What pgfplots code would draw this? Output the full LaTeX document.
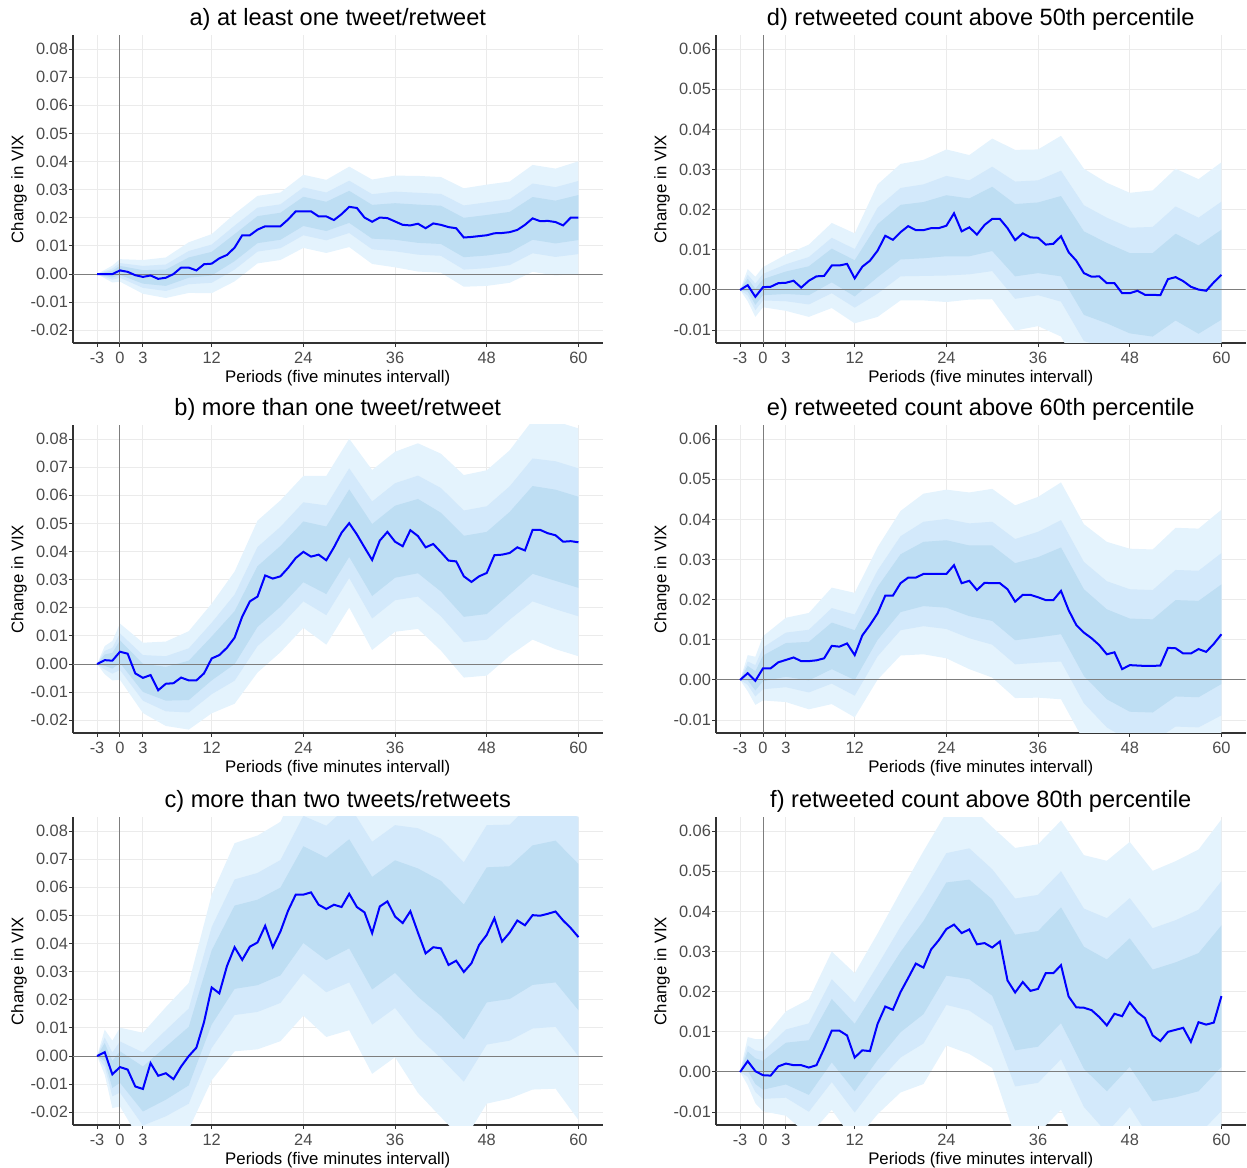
\documentclass[border=0pt]{standalone}
\usepackage{fontspec}
\setmainfont{Liberation Sans}
\usepackage{pgfplots}
\pgfplotsset{compat=1.18}
\usepackage{pgfplotstable}
\usepgfplotslibrary{fillbetween}

\definecolor{cOut}{RGB}{228,243,253}
\definecolor{cMid}{RGB}{211,233,251}
\definecolor{cIn}{RGB}{190,222,243}
\definecolor{gridc}{RGB}{235,235,235}
\definecolor{zeroc}{RGB}{125,125,125}
\definecolor{linec}{RGB}{0,0,255}

\pgfplotsset{
  irf/.style={
    scale only axis, width=264.75pt, height=154pt,
    xmin=-6.15, xmax=63.15,
    xtick={-3,0,3,12,24,36,48,60},
    xticklabels={-3,0,3,12,24,36,48,60},
    scaled y ticks=false, scaled x ticks=false,
    axis x line*=bottom, axis y line*=left,
    axis line style={draw=black!80, line width=0.6pt},
    tick align=outside, major tick length=2pt,
    tick style={draw=black!80, line width=0.5pt},
    xmajorgrids, ymajorgrids,
    major grid style={draw=gridc, line width=0.5pt},
    ticklabel style={font=\fontsize{8.2}{9.8}\selectfont, text=black!70},
    yticklabel style={xshift=3pt},
    xticklabel style={yshift=1pt},
    xlabel={Periods (five minutes intervall)},
    ylabel={Change in VIX},
    label style={font=\fontsize{8.4}{10}\selectfont},
    xlabel style={at={(axis description cs:0.5,-0.114)}, anchor=center},
    ylabel style={at={(axis description cs:-0.102,0.5)}, anchor=center},
    title style={font=\fontsize{11.8}{14}\selectfont, at={(axis description cs:0.5,1)}, anchor=center, yshift=2pt},
  },
  pleft/.style={irf, ymin=-0.0245, ymax=0.085,
    ytick={-0.02,-0.01,0,0.01,0.02,0.03,0.04,0.05,0.06,0.07,0.08},
    yticklabels={-0.02,-0.01,0.00,0.01,0.02,0.03,0.04,0.05,0.06,0.07,0.08}},
  pright/.style={irf, ymin=-0.0132, ymax=0.0635,
    ytick={-0.01,0,0.01,0.02,0.03,0.04,0.05,0.06},
    yticklabels={-0.01,0.00,0.01,0.02,0.03,0.04,0.05,0.06}},
}

\newcommand{\irfbands}[1]{%
 \addplot[name path=h3,draw=none] table[x=x,y=hi3]{#1};
 \addplot[name path=l3,draw=none] table[x=x,y=lo3]{#1};
 \addplot[fill=cOut,draw=none] fill between[of=h3 and l3];
 \addplot[name path=h2,draw=none] table[x=x,y=hi2]{#1};
 \addplot[name path=l2,draw=none] table[x=x,y=lo2]{#1};
 \addplot[fill=cMid,draw=none] fill between[of=h2 and l2];
 \addplot[name path=h1,draw=none] table[x=x,y=hi1]{#1};
 \addplot[name path=l1,draw=none] table[x=x,y=lo1]{#1};
 \addplot[fill=cIn,draw=none] fill between[of=h1 and l1];
}
\newcommand{\zerolines}[2]{%
 \addplot[draw=zeroc, line width=0.5pt] coordinates {(-6.15,0) (63.15,0)};
 \addplot[draw=zeroc, line width=0.5pt] coordinates {(0,#1) (0,#2)};
}

% ---------------- panel a ----------------
\pgfplotstableread[row sep=\\]{
x y\\
-3 0\\ -2 0\\ -1 0\\ 0 0.0013\\ 1 0.0008\\ 2 -0.0004\\ 3 -0.001\\ 4 -0.0005\\ 5 -0.0017\\ 6 -0.0013\\
7 0\\ 8 0.0023\\ 9 0.0023\\ 10 0.0013\\ 11 0.0035\\ 12 0.0037\\ 13 0.0056\\ 14 0.0068\\ 15 0.0094\\ 16 0.0138\\
17 0.0138\\ 18 0.0158\\ 19 0.017\\ 20 0.017\\ 21 0.017\\ 22 0.0194\\ 23 0.0223\\ 24 0.0223\\ 25 0.0223\\ 26 0.0205\\
27 0.0205\\ 28 0.0192\\ 29 0.0213\\ 30 0.0239\\ 31 0.0235\\ 32 0.0201\\ 33 0.0186\\ 34 0.0201\\ 35 0.0199\\ 36 0.0187\\
37 0.0175\\ 38 0.0173\\ 39 0.0179\\ 40 0.0163\\ 41 0.018\\ 42 0.0175\\ 43 0.0167\\ 44 0.0163\\ 45 0.013\\ 46 0.0132\\
47 0.0135\\ 48 0.0138\\ 49 0.0145\\ 50 0.0146\\ 51 0.0149\\ 52 0.0157\\ 53 0.0175\\ 54 0.0198\\ 55 0.0188\\ 56 0.0189\\
57 0.0185\\ 58 0.0173\\ 59 0.0201\\ 60 0.0201\\
}\lineA
\pgfplotstableread{
x lo3 lo2 lo1 hi1 hi2 hi3
-3 0 0 0 0 0 0
-2 -0.0015 -0.001 -0.0006 0.0006 0.001 0.0015
-1 -0.003 -0.002 -0.0012 0.0012 0.002 0.003
0 -0.0027 -0.0013 -0.0003 0.0029 0.0039 0.0053
3 -0.007 -0.0049 -0.0034 0.0014 0.0029 0.005
6 -0.0085 -0.006 -0.0042 0.0016 0.0034 0.0059
9 -0.0067 -0.0036 -0.0013 0.0059 0.0082 0.0113
12 -0.0068 -0.0031 -0.0005 0.0079 0.0105 0.0142
15 -0.0026 0.0016 0.0046 0.0142 0.0172 0.0214
18 0.0038 0.008 0.011 0.0206 0.0236 0.0278
21 0.005 0.0092 0.0122 0.0218 0.0248 0.029
24 0.0093 0.0138 0.0171 0.0275 0.0308 0.0353
27 0.0075 0.012 0.0153 0.0257 0.029 0.0335
30 0.0096 0.0146 0.0182 0.0296 0.0332 0.0382
33 0.0036 0.0088 0.0126 0.0246 0.0284 0.0336
36 0.0024 0.0081 0.0122 0.0252 0.0293 0.035
39 0.0009 0.0069 0.0111 0.0247 0.0289 0.0349
42 0.0005 0.0065 0.0107 0.0243 0.0285 0.0345
45 -0.0045 0.0016 0.006 0.02 0.0244 0.0305
48 -0.0042 0.0021 0.0066 0.021 0.0255 0.0318
51 -0.0031 0.0032 0.0077 0.0221 0.0266 0.0329
54 0.0008 0.0074 0.0122 0.0274 0.0322 0.0388
57 -0.0005 0.0061 0.0109 0.0261 0.0309 0.0375
60 0.0001 0.0071 0.0121 0.0281 0.0331 0.0401
}\bandA

% ---------------- panel b ----------------
\pgfplotstableread[row sep=\\]{
x y\\
-3 0\\ -2 0.0014\\ -1 0.0012\\ 0 0.0044\\ 1 0.0037\\ 2 -0.0033\\ 3 -0.0049\\ 4 -0.0039\\ 5 -0.0093\\ 6 -0.007\\
7 -0.0068\\ 8 -0.0048\\ 9 -0.0058\\ 10 -0.0058\\ 11 -0.0033\\ 12 0.002\\ 13 0.0032\\ 14 0.0058\\ 15 0.0094\\ 16 0.0169\\
17 0.0223\\ 18 0.024\\ 19 0.0315\\ 20 0.0304\\ 21 0.0312\\ 22 0.0342\\ 23 0.0377\\ 24 0.0399\\ 25 0.0382\\ 26 0.0389\\
27 0.0369\\ 28 0.0415\\ 29 0.0467\\ 30 0.0501\\ 31 0.0461\\ 32 0.0415\\ 33 0.037\\ 34 0.0439\\ 35 0.047\\ 36 0.0435\\
37 0.0419\\ 38 0.0476\\ 39 0.0455\\ 40 0.0415\\ 41 0.0427\\ 42 0.0398\\ 43 0.0368\\ 44 0.0365\\ 45 0.0312\\ 46 0.0292\\
47 0.0312\\ 48 0.0324\\ 49 0.0387\\ 50 0.0389\\ 51 0.0395\\ 52 0.0415\\ 53 0.0404\\ 54 0.0477\\ 55 0.0477\\ 56 0.0465\\
57 0.0458\\ 58 0.0435\\ 59 0.0437\\ 60 0.0433\\
}\lineB
\pgfplotstableread{
x lo3 lo2 lo1 hi1 hi2 hi3
-3 0 0 0 0 0 0
-2 -0.0036 -0.0019 -0.0006 0.0034 0.0047 0.0064
-1 -0.0058 -0.0034 -0.0016 0.004 0.0058 0.0082
0 -0.0056 -0.0021 0.0004 0.0084 0.0109 0.0144
3 -0.0174 -0.013 -0.0099 0.0001 0.0032 0.0076
6 -0.022 -0.0168 -0.013 -0.001 0.0028 0.008
9 -0.0233 -0.0172 -0.0128 0.0012 0.0056 0.0117
12 -0.0175 -0.0107 -0.0058 0.0098 0.0147 0.0215
15 -0.0141 -0.0059 0 0.0188 0.0247 0.0329
18 -0.003 0.0064 0.0132 0.0348 0.0416 0.051
21 0.0042 0.0136 0.0204 0.042 0.0488 0.0582
24 0.0129 0.0223 0.0291 0.0507 0.0575 0.0669
27 0.0069 0.0174 0.0249 0.0489 0.0564 0.0669
30 0.0201 0.0306 0.0381 0.0621 0.0696 0.0801
33 0.005 0.0162 0.0242 0.0498 0.0578 0.069
36 0.0115 0.0227 0.0307 0.0563 0.0643 0.0755
39 0.0125 0.024 0.0323 0.0587 0.067 0.0785
42 0.0048 0.017 0.0258 0.0538 0.0626 0.0748
45 -0.0048 0.0078 0.0168 0.0456 0.0546 0.0672
48 -0.0041 0.0087 0.0178 0.047 0.0561 0.0689
51 0.003 0.0158 0.0249 0.0541 0.0632 0.076
54 0.0087 0.0223 0.0321 0.0633 0.0731 0.0867
57 0.0053 0.0195 0.0296 0.062 0.0721 0.0863
60 0.0028 0.017 0.0271 0.0595 0.0696 0.0838
}\bandB

% ---------------- panel c ----------------
\pgfplotstableread[row sep=\\]{
x y\\
-3 0\\ -2 0.0014\\ -1 -0.0065\\ 0 -0.0039\\ 1 -0.0048\\ 2 -0.0108\\ 3 -0.0117\\ 4 -0.0025\\ 5 -0.007\\ 6 -0.0061\\
7 -0.0082\\ 8 -0.0037\\ 9 0\\ 10 0.003\\ 11 0.0121\\ 12 0.0244\\ 13 0.0223\\ 14 0.032\\ 15 0.0387\\ 16 0.0342\\
17 0.0389\\ 18 0.0404\\ 19 0.0463\\ 20 0.0387\\ 21 0.0443\\ 22 0.0517\\ 23 0.0574\\ 24 0.0574\\ 25 0.0582\\ 26 0.0538\\
27 0.0523\\ 28 0.0538\\ 29 0.053\\ 30 0.0577\\ 31 0.053\\ 32 0.0511\\ 33 0.0437\\ 34 0.0532\\ 35 0.055\\ 36 0.0496\\
37 0.0473\\ 38 0.0515\\ 39 0.0439\\ 40 0.0365\\ 41 0.0387\\ 42 0.0383\\ 43 0.0324\\ 44 0.0339\\ 45 0.0299\\ 46 0.033\\
47 0.0395\\ 48 0.0431\\ 49 0.049\\ 50 0.0407\\ 51 0.0439\\ 52 0.0482\\ 53 0.0465\\ 54 0.0501\\ 55 0.0499\\ 56 0.0506\\
57 0.0514\\ 58 0.0482\\ 59 0.0455\\ 60 0.0423\\
}\lineC
\pgfplotstableread{
x lo3 lo2 lo1 hi1 hi2 hi3
-3 0 0 0 0 0 0
-2 -0.0066 -0.0038 -0.0018 0.0046 0.0066 0.0094
-1 -0.0185 -0.0143 -0.0113 -0.0017 0.0013 0.0055
0 -0.0179 -0.013 -0.0095 0.0017 0.0052 0.0101
3 -0.0317 -0.0247 -0.0197 -0.0037 0.0013 0.0083
6 -0.0296 -0.0214 -0.0155 0.0033 0.0092 0.0174
9 -0.026 -0.0169 -0.0104 0.0104 0.0169 0.026
12 -0.0086 0.0029 0.0112 0.0376 0.0459 0.0574
15 0.0017 0.0146 0.0239 0.0535 0.0628 0.0757
18 0.0024 0.0157 0.0252 0.0556 0.0651 0.0784
21 0.0053 0.0189 0.0287 0.0599 0.0697 0.0833
24 0.0144 0.0294 0.0402 0.0746 0.0854 0.1004
27 0.0068 0.0227 0.0341 0.0705 0.0819 0.0978
30 0.0092 0.0262 0.0383 0.0771 0.0892 0.1062
33 -0.0063 0.0112 0.0237 0.0637 0.0762 0.0937
36 -0.0004 0.0171 0.0296 0.0696 0.0821 0.0996
39 -0.0131 0.0068 0.0211 0.0667 0.081 0.1009
42 -0.0217 -0.0007 0.0143 0.0623 0.0773 0.0983
45 -0.0301 -0.0091 0.0059 0.0539 0.0689 0.0899
48 -0.0169 0.0041 0.0191 0.0671 0.0821 0.1031
51 -0.0151 0.0055 0.0203 0.0675 0.0823 0.1029
54 -0.0119 0.0098 0.0253 0.0749 0.0904 0.1121
57 -0.0116 0.0104 0.0262 0.0766 0.0924 0.1144
60 -0.0227 0 0.0163 0.0683 0.0846 0.1073
}\bandC

% ---------------- panel d ----------------
\pgfplotstableread[row sep=\\]{
x y\\
-3 0\\ -2 0.0012\\ -1 -0.0017\\ 0 0.0007\\ 1 0.0008\\ 2 0.0017\\ 3 0.0018\\ 4 0.0023\\ 5 0.0006\\ 6 0.0023\\
7 0.0034\\ 8 0.0035\\ 9 0.0061\\ 10 0.0061\\ 11 0.0065\\ 12 0.0029\\ 13 0.0058\\ 14 0.0073\\ 15 0.0098\\ 16 0.0135\\
17 0.0125\\ 18 0.0144\\ 19 0.0159\\ 20 0.0149\\ 21 0.0149\\ 22 0.0154\\ 23 0.0154\\ 24 0.016\\ 25 0.0191\\ 26 0.0146\\
27 0.0156\\ 28 0.0138\\ 29 0.0162\\ 30 0.0177\\ 31 0.0177\\ 32 0.0154\\ 33 0.0124\\ 34 0.0141\\ 35 0.0131\\ 36 0.013\\
37 0.0113\\ 38 0.0115\\ 39 0.0134\\ 40 0.0094\\ 41 0.0073\\ 42 0.0042\\ 43 0.0033\\ 44 0.0034\\ 45 0.0017\\ 46 0.0017\\
47 -0.0008\\ 48 -0.0008\\ 49 -0.0002\\ 50 -0.0012\\ 51 -0.0012\\ 52 -0.0013\\ 53 0.0027\\ 54 0.0032\\ 55 0.0022\\ 56 0.0008\\
57 0.0001\\ 58 -0.0002\\ 59 0.0019\\ 60 0.0038\\
}\lineD
\pgfplotstableread{
x lo3 lo2 lo1 hi1 hi2 hi3
-3 0 0 0 0 0 0
-2 -0.0028 -0.0014 -0.0004 0.0028 0.0038 0.0052
-1 -0.0067 -0.005 -0.0037 0.0003 0.0016 0.0033
0 -0.0043 -0.0026 -0.0013 0.0027 0.004 0.0057
3 -0.0052 -0.0028 -0.001 0.0046 0.0064 0.0088
6 -0.0067 -0.0036 -0.0013 0.0059 0.0082 0.0113
9 -0.0045 -0.0008 0.0019 0.0103 0.013 0.0167
12 -0.0083 -0.0044 -0.0016 0.0074 0.0102 0.0141
15 -0.0067 -0.0009 0.0032 0.0164 0.0205 0.0263
18 -0.0026 0.0034 0.0076 0.0212 0.0254 0.0314
21 -0.0026 0.0035 0.0079 0.0219 0.0263 0.0324
24 -0.003 0.0036 0.0084 0.0236 0.0284 0.035
27 -0.0024 0.0039 0.0084 0.0228 0.0273 0.0336
30 -0.0023 0.0047 0.0097 0.0257 0.0307 0.0377
33 -0.0101 -0.0022 0.0034 0.0214 0.027 0.0349
36 -0.009 -0.0013 0.0042 0.0218 0.0273 0.035
39 -0.0116 -0.0029 0.0034 0.0234 0.0297 0.0384
42 -0.0218 -0.0127 -0.0062 0.0146 0.0211 0.0302
45 -0.0233 -0.0146 -0.0083 0.0117 0.018 0.0267
48 -0.0258 -0.0171 -0.0108 0.0092 0.0155 0.0242
51 -0.0272 -0.0181 -0.0116 0.0092 0.0157 0.0248
54 -0.0238 -0.0144 -0.0076 0.014 0.0208 0.0302
57 -0.0274 -0.0178 -0.0109 0.0111 0.018 0.0276
60 -0.0242 -0.0144 -0.0074 0.015 0.022 0.0318
}\bandD

% ---------------- panel e ----------------
\pgfplotstableread[row sep=\\]{
x y\\
-3 0\\ -2 0.0017\\ -1 -0.0002\\ 0 0.0029\\ 1 0.0029\\ 2 0.0044\\ 3 0.005\\ 4 0.0056\\ 5 0.0047\\ 6 0.0047\\
7 0.0049\\ 8 0.0054\\ 9 0.0085\\ 10 0.0083\\ 11 0.0091\\ 12 0.0062\\ 13 0.0111\\ 14 0.0137\\ 15 0.0166\\ 16 0.021\\
17 0.021\\ 18 0.0241\\ 19 0.0255\\ 20 0.0255\\ 21 0.0264\\ 22 0.0264\\ 23 0.0264\\ 24 0.0264\\ 25 0.0286\\ 26 0.0241\\
27 0.0247\\ 28 0.0224\\ 29 0.0242\\ 30 0.0241\\ 31 0.0241\\ 32 0.0226\\ 33 0.0195\\ 34 0.0212\\ 35 0.0212\\ 36 0.0206\\
37 0.0199\\ 38 0.0199\\ 39 0.0222\\ 40 0.0174\\ 41 0.0137\\ 42 0.0118\\ 43 0.0104\\ 44 0.0087\\ 45 0.0064\\ 46 0.0069\\
47 0.0027\\ 48 0.0037\\ 49 0.0036\\ 50 0.0035\\ 51 0.0035\\ 52 0.0036\\ 53 0.008\\ 54 0.0079\\ 55 0.0066\\ 56 0.0066\\
57 0.0077\\ 58 0.007\\ 59 0.009\\ 60 0.0114\\
}\lineE
\pgfplotstableread{
x lo3 lo2 lo1 hi1 hi2 hi3
-3 0 0 0 0 0 0
-2 -0.0028 -0.0012 -0.0001 0.0035 0.0046 0.0062
-1 -0.0062 -0.0041 -0.0026 0.0022 0.0037 0.0058
0 -0.0051 -0.0023 -0.0003 0.0061 0.0081 0.0109
3 -0.0055 -0.0018 0.0008 0.0092 0.0118 0.0155
6 -0.0073 -0.0031 -0.0001 0.0095 0.0125 0.0167
9 -0.006 -0.0009 0.0027 0.0143 0.0179 0.023
12 -0.0093 -0.0039 0 0.0124 0.0163 0.0217
15 0.0001 0.0059 0.01 0.0232 0.0273 0.0331
18 0.0061 0.0124 0.0169 0.0313 0.0358 0.0421
21 0.0064 0.0134 0.0184 0.0344 0.0394 0.0464
24 0.0054 0.0127 0.018 0.0348 0.0401 0.0474
27 0.0027 0.0104 0.0159 0.0335 0.039 0.0467
30 0.0006 0.0088 0.0147 0.0335 0.0394 0.0476
33 -0.0045 0.0039 0.0099 0.0291 0.0351 0.0435
36 -0.0044 0.0043 0.0106 0.0306 0.0369 0.0456
39 -0.0048 0.0046 0.0114 0.033 0.0398 0.0492
42 -0.0152 -0.0058 0.001 0.0226 0.0294 0.0388
45 -0.0216 -0.0118 -0.0048 0.0176 0.0246 0.0344
48 -0.0253 -0.0152 -0.0079 0.0153 0.0226 0.0327
51 -0.0255 -0.0154 -0.0081 0.0151 0.0224 0.0325
54 -0.0221 -0.0116 -0.0041 0.0199 0.0274 0.0379
57 -0.0223 -0.0118 -0.0043 0.0197 0.0272 0.0377
60 -0.0196 -0.0088 -0.001 0.0238 0.0316 0.0424
}\bandE

% ---------------- panel f ----------------
\pgfplotstableread[row sep=\\]{
x y\\
-3 0\\ -2 0.0027\\ -1 0.0002\\ 0 -0.0008\\ 1 -0.0009\\ 2 0.0014\\ 3 0.0021\\ 4 0.0017\\ 5 0.0017\\ 6 0.0011\\
7 0.0017\\ 8 0.0058\\ 9 0.0103\\ 10 0.0103\\ 11 0.0091\\ 12 0.0036\\ 13 0.0054\\ 14 0.0052\\ 15 0.012\\ 16 0.0163\\
17 0.0155\\ 18 0.0199\\ 19 0.0234\\ 20 0.027\\ 21 0.026\\ 22 0.0305\\ 23 0.0328\\ 24 0.0356\\ 25 0.0367\\ 26 0.0346\\
27 0.0355\\ 28 0.0318\\ 29 0.0321\\ 30 0.031\\ 31 0.0325\\ 32 0.0228\\ 33 0.0198\\ 34 0.0224\\ 35 0.0202\\ 36 0.0207\\
37 0.0246\\ 38 0.0246\\ 39 0.0266\\ 40 0.0188\\ 41 0.0161\\ 42 0.016\\ 43 0.0154\\ 44 0.0137\\ 45 0.0116\\ 46 0.0145\\
47 0.0139\\ 48 0.0173\\ 49 0.0149\\ 50 0.0134\\ 51 0.0091\\ 52 0.0077\\ 53 0.01\\ 54 0.0105\\ 55 0.011\\ 56 0.0075\\
57 0.0124\\ 58 0.0118\\ 59 0.0123\\ 60 0.0189\\
}\lineF
\pgfplotstableread{
x lo3 lo2 lo1 hi1 hi2 hi3
-3 0 0 0 0 0 0
-2 -0.0033 -0.0012 0.0003 0.0051 0.0066 0.0087
-1 -0.0078 -0.005 -0.003 0.0034 0.0054 0.0082
0 -0.0098 -0.0067 -0.0044 0.0028 0.0051 0.0082
3 -0.0109 -0.0064 -0.0031 0.0073 0.0106 0.0151
6 -0.0159 -0.0099 -0.0057 0.0079 0.0121 0.0181
9 -0.0094 -0.0025 0.0024 0.0182 0.0231 0.03
12 -0.0174 -0.0101 -0.0048 0.012 0.0173 0.0246
15 -0.0105 -0.0026 0.003 0.021 0.0266 0.0345
18 -0.0051 0.0036 0.0099 0.0299 0.0362 0.0449
21 -0.003 0.0071 0.0144 0.0376 0.0449 0.055
24 0.0066 0.0167 0.024 0.0472 0.0545 0.0646
27 0.0045 0.0153 0.0231 0.0479 0.0557 0.0665
30 0.001 0.0115 0.019 0.043 0.0505 0.061
33 -0.0162 -0.0036 0.0054 0.0342 0.0432 0.0558
36 -0.0153 -0.0027 0.0063 0.0351 0.0441 0.0567
39 -0.0094 0.0032 0.0122 0.041 0.05 0.0626
42 -0.022 -0.0087 0.0008 0.0312 0.0407 0.054
45 -0.0294 -0.0151 -0.0048 0.028 0.0383 0.0526
48 -0.0227 -0.0087 0.0013 0.0333 0.0433 0.0573
51 -0.0319 -0.0176 -0.0073 0.0255 0.0358 0.0501
54 -0.0315 -0.0168 -0.0063 0.0273 0.0378 0.0525
57 -0.0306 -0.0156 -0.0048 0.0296 0.0404 0.0554
60 -0.0251 -0.0097 0.0013 0.0365 0.0475 0.0629
}\bandF

\begin{document}
\begin{tikzpicture}
% a
\begin{axis}[pleft, at={(36.5pt,412pt)}, anchor=south west, title={a) at least one tweet/retweet}]
\irfbands{\bandA}
\zerolines{-0.0245}{0.085}
\addplot[draw=linec, line width=1pt] table[x=x,y=y]{\lineA};
\end{axis}
% b
\begin{axis}[pleft, at={(36.5pt,217pt)}, anchor=south west, title={b) more than one tweet/retweet}]
\irfbands{\bandB}
\zerolines{-0.0245}{0.085}
\addplot[draw=linec, line width=1pt] table[x=x,y=y]{\lineB};
\end{axis}
% c
\begin{axis}[pleft, at={(36.5pt,21pt)}, anchor=south west, title={c) more than two tweets/retweets}]
\irfbands{\bandC}
\zerolines{-0.0245}{0.085}
\addplot[draw=linec, line width=1pt] table[x=x,y=y]{\lineC};
\end{axis}
% d
\begin{axis}[pright, at={(358pt,412pt)}, anchor=south west, title={d) retweeted count above 50th percentile}]
\irfbands{\bandD}
\zerolines{-0.0132}{0.0635}
\addplot[draw=linec, line width=1pt] table[x=x,y=y]{\lineD};
\end{axis}
% e
\begin{axis}[pright, at={(358pt,217pt)}, anchor=south west, title={e) retweeted count above 60th percentile}]
\irfbands{\bandE}
\zerolines{-0.0132}{0.0635}
\addplot[draw=linec, line width=1pt] table[x=x,y=y]{\lineE};
\end{axis}
% f
\begin{axis}[pright, at={(358pt,21pt)}, anchor=south west, title={f) retweeted count above 80th percentile}]
\irfbands{\bandF}
\zerolines{-0.0132}{0.0635}
\addplot[draw=linec, line width=1pt] table[x=x,y=y]{\lineF};
\end{axis}
\pgfresetboundingbox
\path[use as bounding box] (0,0) rectangle (623.5pt,583.5pt);
\end{tikzpicture}
\end{document}
